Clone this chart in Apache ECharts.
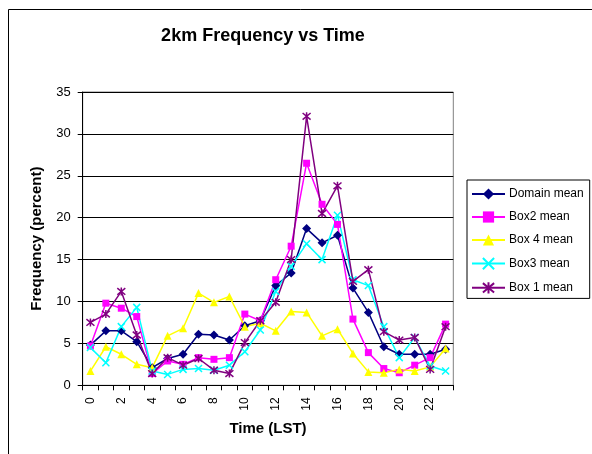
<!DOCTYPE html>
<html>
<head>
<meta charset="utf-8">
<script src="https://cdn.jsdelivr.net/npm/echarts@6/dist/echarts.min.js"></script>
<style>
  html, body { margin: 0; padding: 0; background: #fff; }
  #chart { width: 592px; height: 454px; }
</style>
</head>
<body>
<div id="chart"></div>
<script>
// Hours of the day (LST)
const hours = ['0','1','2','3','4','5','6','7','8','9','10','11','12','13','14','15','16','17','18','19','20','21','22','23'];

// Frequency (percent) per hour for each region
const domainMean = [4.8, 6.5, 6.5, 5.2, 2.1, 3.2, 3.7, 6.1, 6.0, 5.4, 7.1, 7.7, 11.9, 13.4, 18.7, 17.0, 17.9, 11.6, 8.7, 4.6, 3.7, 3.7, 3.7, 4.3];
const box2Mean   = [4.7, 9.8, 9.2, 8.2, 1.4, 2.9, 2.5, 3.3, 3.1, 3.3, 8.5, 7.7, 12.6, 16.6, 26.5, 21.6, 19.2, 7.9, 3.9, 2.0, 1.5, 2.4, 3.3, 7.3];
const box4Mean   = [1.7, 4.6, 3.7, 2.5, 2.1, 5.9, 6.8, 11.0, 9.9, 10.6, 7.0, 7.4, 6.5, 8.8, 8.7, 5.9, 6.7, 3.8, 1.6, 1.5, 1.9, 1.7, 2.2, 4.4];
const box3Mean   = [4.5, 2.7, 7.0, 9.3, 1.7, 1.3, 1.9, 2.0, 1.8, 2.4, 4.0, 6.6, 11.2, 14.2, 16.9, 15.0, 20.3, 12.6, 11.9, 7.0, 3.3, 5.7, 2.3, 1.7];
const box1Mean   = [7.5, 8.5, 11.2, 6.0, 1.4, 3.3, 2.4, 3.2, 1.8, 1.4, 5.1, 7.7, 9.9, 15.0, 32.1, 20.5, 23.8, 12.4, 13.8, 6.4, 5.4, 5.7, 1.9, 7.0];

const seriesNames = ['Domain mean', 'Box2 mean', 'Box 4 mean', 'Box3 mean', 'Box 1 mean'];
const yTicks = { min: 0, max: 35, interval: 5 };

const FONT = 'Liberation Sans, Arial, sans-serif';

// Stroke-only marker shapes
const crossPath = 'path://M0,0L10,10M10,0L0,10';
const starPath = 'path://M0,0L10,10M10,0L0,10M5,-1L5,11';

function lineSeries(name, data, color, symbol, size, stroked) {
  return {
    name: name,
    type: 'line',
    data: data,
    symbol: symbol,
    symbolSize: size,
    showAllSymbol: true,
    lineStyle: { color: color, width: 1.5 },
    itemStyle: stroked
      ? { color: color, borderColor: color, borderWidth: 1.5 }
      : { color: color, borderWidth: 0 },
    emphasis: { disabled: true },
    animation: false
  };
}

const chart = echarts.init(document.getElementById('chart'), null, { renderer: 'canvas' });

chart.setOption({
  backgroundColor: '#ffffff',
  animation: false,
  textStyle: { fontFamily: FONT },
  title: {
    text: '2km Frequency vs Time',
    left: 263,
    textAlign: 'center',
    top: 27,
    padding: 0,
    textStyle: { fontFamily: FONT, fontSize: 18, fontWeight: 'bold', color: '#000' }
  },
  graphic: [{
    type: 'rect',
    silent: true,
    z: -1,
    shape: { x: 8.5, y: 9.5, width: 700, height: 600 },
    style: { fill: 'none', stroke: '#000', lineWidth: 1 }
  }],
  legend: {
    orient: 'vertical',
    left: 467,
    top: 180,
    width: 122,
    padding: [8, 6, 4, 4],
    itemWidth: 33,
    itemHeight: 14,
    itemGap: 11,
    backgroundColor: '#fff',
    borderColor: '#000',
    borderWidth: 1,
    borderRadius: 0,
    selectedMode: false,
    textStyle: { fontFamily: FONT, fontSize: 12, color: '#000', padding: [0, 0, 0, -1] },
    data: seriesNames
  },
  grid: {
    left: 82.7,
    right: 138.7,
    top: 92,
    bottom: 68.7,
    show: true,
    borderColor: '#808080',
    borderWidth: 1,
    backgroundColor: '#fff'
  },
  xAxis: {
    type: 'category',
    data: hours,
    boundaryGap: true,
    name: 'Time (LST)',
    nameLocation: 'middle',
    nameGap: 36,
    nameTextStyle: { fontFamily: FONT, fontSize: 15, fontWeight: 'bold', color: '#000' },
    axisLine: { lineStyle: { color: '#000', width: 1 } },
    axisTick: { show: true, alignWithLabel: false, interval: 0, length: 5, lineStyle: { color: '#000' } },
    axisLabel: { interval: 1, rotate: 90, margin: 12, fontFamily: FONT, fontSize: 12, color: '#000' },
    splitLine: { show: false }
  },
  yAxis: {
    type: 'value',
    min: yTicks.min,
    max: yTicks.max,
    interval: yTicks.interval,
    name: 'Frequency (percent)',
    nameLocation: 'middle',
    nameGap: 38,
    nameTextStyle: { fontFamily: FONT, fontSize: 15, fontWeight: 'bold', color: '#000' },
    axisLine: { show: true, lineStyle: { color: '#000', width: 1 } },
    axisTick: { show: true, length: 5, lineStyle: { color: '#000' } },
    axisLabel: { margin: 12, fontFamily: FONT, fontSize: 13, color: '#000' },
    splitLine: { show: true, lineStyle: { color: '#000', width: 1 } }
  },
  series: [
    lineSeries(seriesNames[0], domainMean, '#000080', 'diamond', 9, false),
    lineSeries(seriesNames[1], box2Mean, '#FF00FF', 'rect', 7, false),
    lineSeries(seriesNames[2], box4Mean, '#FFFF00', 'triangle', 8, false),
    lineSeries(seriesNames[3], box3Mean, '#00FFFF', crossPath, 7, true),
    lineSeries(seriesNames[4], box1Mean, '#800080', starPath, 8, true)
  ]
});
</script>
</body>
</html>
